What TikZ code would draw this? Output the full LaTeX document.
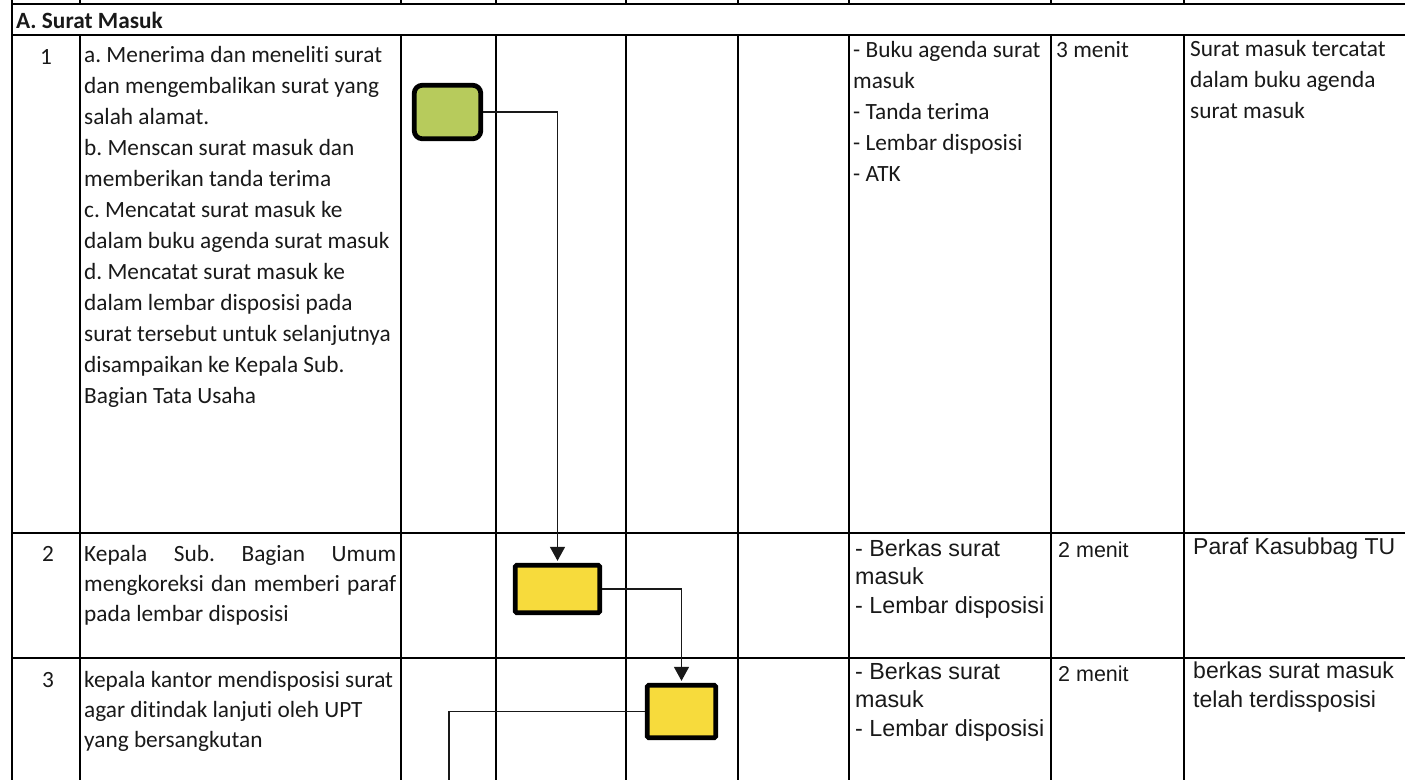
\documentclass[tikz,border=0pt]{standalone}
\usepackage{fontspec}
\setmainfont{Carlito}[Ligatures={NoCommon}]
\newfontfamily\arifont{Liberation Sans}
\usetikzlibrary{arrows.meta}
\frenchspacing
\definecolor{ink}{RGB}{25,25,25}
\definecolor{boxgreen}{RGB}{183,203,92}
\definecolor{boxyellow}{RGB}{247,219,60}
\newcommand\cellpar[2]{\parbox[t]{#1}{\raggedright #2}}
\tikzset{
  grid/.style={line width=2pt, draw=black},
  flowbox/.style={draw=black, line width=4.8pt, inner sep=0pt},
  conn/.style={line width=1.3pt, draw=ink},
  arr/.style={conn, -{Triangle[length=14pt,width=15pt]}, shorten >=2pt},
  txt/.style={inner sep=0pt, anchor=base west, text=ink},
  num/.style={inner sep=0pt, anchor=base, text=ink, font=\fontsize{23.3}{30}\selectfont},
  cal/.style={font=\fontsize{23.3}{31}\selectfont},
  caltwo/.style={font=\fontsize{23.3}{30}\selectfont},
  ari/.style={font=\arifont\fontsize{23.3}{28.5}\selectfont},
  arione/.style={font=\arifont\fontsize{23}{29}\selectfont},
  aritwo/.style={font=\arifont\fontsize{21.5}{28}\selectfont},
}
\begin{document}
\begin{tikzpicture}[x=1pt,y=-1pt]
\useasboundingbox (0,0) rectangle (1405,780);
% grid
\draw[grid] (12,0) -- (12,780);
\draw[grid] (12,4) -- (1405,4);
\draw[grid] (12,35) -- (1405,35);
\draw[grid] (12,533) -- (1405,533);
\draw[grid] (12,658) -- (1405,658);
\foreach \x in {80,401,496,626,738,849,1051,1184}{
  \draw[grid] (\x,0) -- (\x,4);
  \draw[grid] (\x,35) -- (\x,780);
}
% header
\node[txt, font=\bfseries\fontsize{23.3}{28}\selectfont] (hdr) at (16,28) {A. Surat Masuk};
% row 1
\node[num] (n1) at (46,64) {1};
\node[txt, cal] (d1) at (84,62) {\cellpar{320pt}{a. Menerima dan meneliti surat\\dan mengembalikan surat yang\\salah alamat.\\b. Menscan surat masuk dan\\memberikan tanda terima\\c. Mencatat surat masuk ke\\dalam buku agenda surat masuk\\d. Mencatat surat masuk ke\\dalam lembar disposisi pada\\surat tersebut untuk selanjutnya\\disampaikan ke Kepala Sub.\\Bagian Tata Usaha}};
\node[txt, cal] (r1) at (853,57) {\cellpar{200pt}{- Buku agenda surat\\masuk\\- Tanda terima\\- Lembar disposisi\\- ATK}};
\node[txt, cal] (t1) at (1056,57) {3 menit};
\node[txt, cal] (o1) at (1190,56) {\cellpar{215pt}{Surat masuk tercatat\\dalam buku agenda\\surat masuk}};
% row 2
\node[num] (n2) at (48,561) {2};
\node[txt, caltwo] (d2) at (84,561) {\cellpar{312pt}{\makebox[312pt][s]{Kepala Sub. Bagian Umum}\\\makebox[312pt][s]{mengkoreksi dan memberi paraf}\\pada lembar disposisi}};
\node[txt, ari] (r2) at (855,556) {\cellpar{195pt}{- Berkas surat\\masuk\\- Lembar disposisi}};
\node[txt, aritwo] (t2) at (1058,557) {2 menit};
\node[txt, arione] (o2) at (1193,554) {Paraf Kasubbag TU};
% row 3
\node[num] (n3) at (48,687) {3};
\node[txt, caltwo] (d3) at (84,687) {\cellpar{320pt}{kepala kantor mendisposisi surat\\agar ditindak lanjuti oleh UPT\\yang bersangkutan}};
\node[txt, ari] (r3) at (855,679) {\cellpar{195pt}{- Berkas surat\\masuk\\- Lembar disposisi}};
\node[txt, aritwo] (t3) at (1058,681) {2 menit};
\node[txt, arione] (o3) at (1193,678) {\cellpar{210pt}{berkas surat masuk\\telah terdissposisi}};
% flow boxes
\node[flowbox, fill=boxgreen, rounded corners=8pt, minimum width=66.5pt, minimum height=53.5pt] (b1) at (447.5,112) {};
\node[flowbox, fill=boxyellow, rounded corners=1.5pt, minimum width=84.5pt, minimum height=47.5pt] (b2) at (557.5,589) {};
\node[flowbox, fill=boxyellow, rounded corners=1.5pt, minimum width=68.5pt, minimum height=52.5pt] (b3) at (681.5,711.5) {};
% connectors
\coordinate (c3end) at (449,780);
\draw[arr] (b1.east) -| (b2.north);
\draw[arr] (b2.east) -| (b3.north);
\draw[conn] (b3.west) -| (c3end);
\end{tikzpicture}
\end{document}
